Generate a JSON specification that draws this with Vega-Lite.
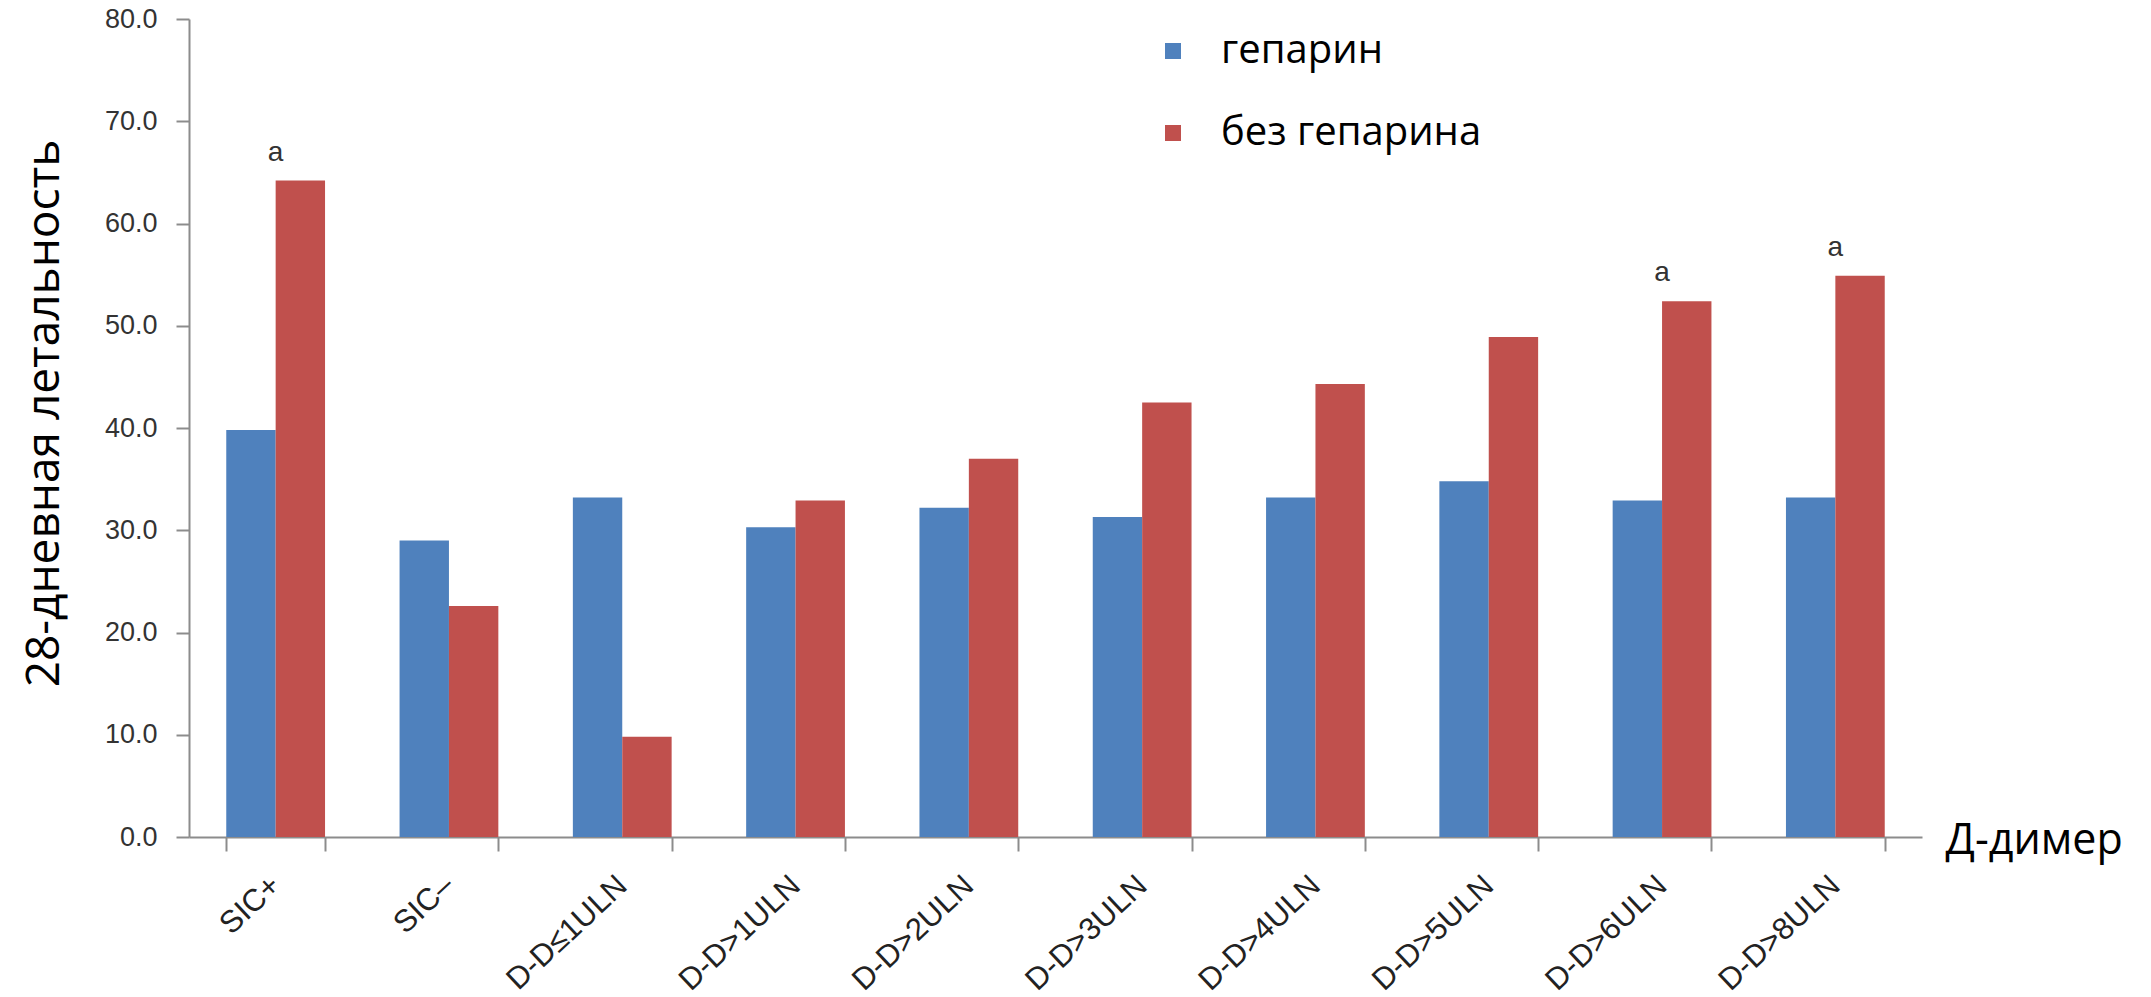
{
  "$schema": "https://vega.github.io/schema/vega-lite/v6.json",
  "width": 1733,
  "height": 818,
  "autosize": {"type": "none"},
  "padding": {"left": 189, "top": 19, "right": 229, "bottom": 160},
  "background": "white",
  "config": {"view": {"stroke": null}},
  "data": {
    "values": [
      {"group": "SIC+", "treatment": "гепарин", "value": 39.8, "note": ""},
      {"group": "SIC+", "treatment": "без гепарина", "value": 64.2, "note": "a"},
      {"group": "SIC–", "treatment": "гепарин", "value": 29.0, "note": ""},
      {"group": "SIC–", "treatment": "без гепарина", "value": 22.6, "note": ""},
      {"group": "D-D≤1ULN", "treatment": "гепарин", "value": 33.2, "note": ""},
      {"group": "D-D≤1ULN", "treatment": "без гепарина", "value": 9.8, "note": ""},
      {"group": "D-D>1ULN", "treatment": "гепарин", "value": 30.3, "note": ""},
      {"group": "D-D>1ULN", "treatment": "без гепарина", "value": 32.9, "note": ""},
      {"group": "D-D>2ULN", "treatment": "гепарин", "value": 32.2, "note": ""},
      {"group": "D-D>2ULN", "treatment": "без гепарина", "value": 37.0, "note": ""},
      {"group": "D-D>3ULN", "treatment": "гепарин", "value": 31.3, "note": ""},
      {"group": "D-D>3ULN", "treatment": "без гепарина", "value": 42.5, "note": ""},
      {"group": "D-D>4ULN", "treatment": "гепарин", "value": 33.2, "note": ""},
      {"group": "D-D>4ULN", "treatment": "без гепарина", "value": 44.3, "note": ""},
      {"group": "D-D>5ULN", "treatment": "гепарин", "value": 34.8, "note": ""},
      {"group": "D-D>5ULN", "treatment": "без гепарина", "value": 48.9, "note": ""},
      {"group": "D-D>6ULN", "treatment": "гепарин", "value": 32.9, "note": ""},
      {"group": "D-D>6ULN", "treatment": "без гепарина", "value": 52.4, "note": "a"},
      {"group": "D-D>8ULN", "treatment": "гепарин", "value": 33.2, "note": ""},
      {"group": "D-D>8ULN", "treatment": "без гепарина", "value": 54.9, "note": "a"}
    ]
  },
  "layer": [
    {
      "mark": {"type": "bar"},
      "encoding": {
        "x": {
          "field": "group",
          "type": "nominal",
          "sort": ["SIC+", "SIC–", "D-D≤1ULN", "D-D>1ULN", "D-D>2ULN", "D-D>3ULN", "D-D>4ULN", "D-D>5ULN", "D-D>6ULN", "D-D>8ULN"],
          "scale": {"paddingInner": 0.43, "paddingOuter": 0.215},
          "axis": {
            "orient": "bottom",
            "domainColor": "#8c8c8c",
            "domainWidth": 2,
            "tickColor": "#8c8c8c",
            "tickWidth": 2,
            "tickSize": 14,
            "tickBand": "extent",
            "labelAngle": -43,
            "labelAlign": "right",
            "labelBaseline": "middle",
            "labelPadding": 30,
            "labelFont": "Liberation Sans",
            "labelFontSize": 31,
            "labelColor": "#222222",
            "labelLimit": 0,
            "title": "Д-димер",
            "titleFont": "Open Sans",
            "titleFontSize": 43,
            "titleFontWeight": "normal",
            "titleColor": "black",
            "titleAngle": 0,
            "titleX": 1756,
            "titleY": 3,
            "titleAlign": "left",
            "titleBaseline": "middle"
          }
        },
        "xOffset": {"field": "treatment", "type": "nominal", "sort": ["гепарин", "без гепарина"]},
        "y": {
          "field": "value",
          "type": "quantitative",
          "scale": {"domain": [0, 80], "nice": false},
          "axis": {
            "values": [0, 10, 20, 30, 40, 50, 60, 70, 80],
            "format": ".1f",
            "grid": false,
            "domainColor": "#8c8c8c",
            "domainWidth": 2,
            "tickColor": "#8c8c8c",
            "tickWidth": 2,
            "tickSize": 13,
            "labelPadding": 19,
            "labelFont": "Liberation Sans",
            "labelFontSize": 27,
            "labelColor": "#333333",
            "title": "28-дневная летальность",
            "titleFont": "Open Sans",
            "titleFontSize": 46,
            "titleFontWeight": "normal",
            "titleColor": "black",
            "titlePadding": 36,
            "titleY": 394
          }
        },
        "color": {
          "field": "treatment",
          "type": "nominal",
          "scale": {"domain": ["гепарин", "без гепарина"], "range": ["#4F81BD", "#C0504D"]},
          "legend": {
            "orient": "none",
            "legendX": 964,
            "legendY": 12,
            "direction": "vertical",
            "title": null,
            "padding": 0,
            "symbolType": "square",
            "symbolSize": 256,
            "symbolStrokeWidth": 0,
            "labelFont": "Open Sans",
            "labelFontSize": 40,
            "labelColor": "black",
            "labelLimit": 0,
            "labelOffset": 28,
            "rowPadding": 42
          }
        }
      }
    },
    {
      "transform": [{"filter": "datum.note != ''"}],
      "mark": {"type": "text", "dy": -20, "baseline": "alphabetic", "font": "Liberation Sans", "fontSize": 28, "color": "#333333"},
      "encoding": {
        "x": {
          "field": "group",
          "type": "nominal",
          "sort": ["SIC+", "SIC–", "D-D≤1ULN", "D-D>1ULN", "D-D>2ULN", "D-D>3ULN", "D-D>4ULN", "D-D>5ULN", "D-D>6ULN", "D-D>8ULN"]
        },
        "y": {"field": "value", "type": "quantitative"},
        "text": {"field": "note"}
      }
    }
  ]
}
